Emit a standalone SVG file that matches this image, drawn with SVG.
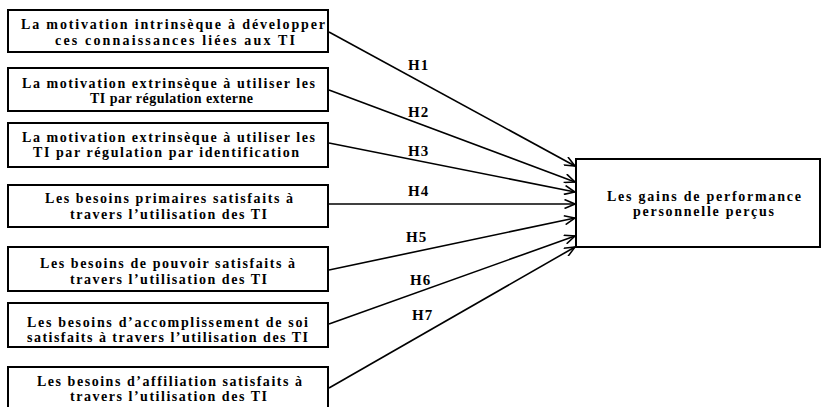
<svg xmlns="http://www.w3.org/2000/svg" width="822" height="407" viewBox="0 0 822 407">
<style>
.box{fill:#fff;stroke:#000;stroke-width:2}
.t{font-family:"Liberation Serif","Times New Roman",serif;font-weight:bold;font-size:14px;fill:#000}
.h{font-family:"Liberation Serif","Times New Roman",serif;font-weight:bold;font-size:15px;fill:#000;letter-spacing:1px}
.c{stroke:#000;stroke-width:1.6;fill:none;marker-end:url(#arr)}
</style>
<defs>
<marker id="arr" viewBox="0 0 12 10" refX="11.5" refY="5" markerWidth="12" markerHeight="10" markerUnits="userSpaceOnUse" orient="auto">
<path d="M1,0.5 L11.5,5 L1,9.5" fill="none" stroke="#000" stroke-width="1.6"/>
</marker>
</defs>
<rect width="822" height="407" fill="#fff"/>
<g id="connectors">
<line class="c" x1="329" y1="32" x2="575" y2="166"/>
<line class="c" x1="329" y1="90" x2="575" y2="182"/>
<line class="c" x1="329" y1="143" x2="575" y2="192"/>
<line class="c" x1="329" y1="204" x2="575" y2="204"/>
<line class="c" x1="329" y1="270" x2="575" y2="218"/>
<line class="c" x1="329" y1="324" x2="575" y2="236"/>
<line class="c" x1="329" y1="388" x2="575" y2="247"/>
<text class="h" x="408" y="70">H1</text>
<text class="h" x="408" y="117">H2</text>
<text class="h" x="408" y="156">H3</text>
<text class="h" x="408" y="196">H4</text>
<text class="h" x="406" y="242">H5</text>
<text class="h" x="410" y="285">H6</text>
<text class="h" x="412" y="320">H7</text>
</g>
<g id="n1">
<rect class="box" x="8" y="10" width="320" height="42"/>
<text class="t" x="21" y="29" textLength="304" lengthAdjust="spacing">La motivation intrinsèque à développer</text>
<text class="t" x="55" y="45" textLength="240" lengthAdjust="spacing">ces connaissances liées aux TI</text>
</g>
<g id="n2">
<rect class="box" x="8" y="68" width="320" height="43"/>
<text class="t" x="22" y="88" textLength="293" lengthAdjust="spacing">La motivation extrinsèque à utiliser les</text>
<text class="t" x="90" y="103" textLength="163" lengthAdjust="spacing">TI par régulation externe</text>
</g>
<g id="n3">
<rect class="box" x="8" y="123" width="320" height="44"/>
<text class="t" x="22" y="142" textLength="293" lengthAdjust="spacing">La motivation extrinsèque à utiliser les</text>
<text class="t" x="33" y="157" textLength="266" lengthAdjust="spacing">TI par régulation par identification</text>
</g>
<g id="n4">
<rect class="box" x="8" y="185" width="320" height="42"/>
<text class="t" x="45" y="203" textLength="248" lengthAdjust="spacing">Les besoins primaires satisfaits à</text>
<text class="t" x="70" y="219" textLength="197" lengthAdjust="spacing">travers l’utilisation des TI</text>
</g>
<g id="n5">
<rect class="box" x="8" y="247" width="320" height="44"/>
<text class="t" x="40" y="268" textLength="255" lengthAdjust="spacing">Les besoins de pouvoir satisfaits à</text>
<text class="t" x="70" y="284" textLength="197" lengthAdjust="spacing">travers l’utilisation des TI</text>
</g>
<g id="n6">
<rect class="box" x="8" y="303" width="320" height="44"/>
<text class="t" x="27" y="327" textLength="281" lengthAdjust="spacing">Les besoins d’accomplissement de soi</text>
<text class="t" x="27" y="342" textLength="281" lengthAdjust="spacing">satisfaits à travers l’utilisation des TI</text>
</g>
<g id="n7">
<rect class="box" x="8" y="367" width="320" height="50"/>
<text class="t" x="37" y="386" textLength="265" lengthAdjust="spacing">Les besoins d’affiliation satisfaits à</text>
<text class="t" x="70" y="401" textLength="197" lengthAdjust="spacing">travers l’utilisation des TI</text>
</g>
<g id="target">
<rect class="box" x="576" y="159" width="244" height="88"/>
<text class="t" x="607" y="201" textLength="194" lengthAdjust="spacing">Les gains de performance</text>
<text class="t" x="633" y="216" textLength="141" lengthAdjust="spacing">personnelle perçus</text>
</g>
</svg>
